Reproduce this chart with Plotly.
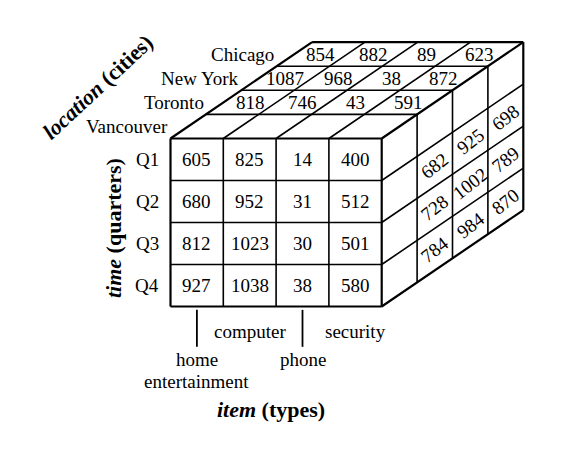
import plotly.graph_objects as go

# ---------------- data ----------------
items = ["home entertainment", "computer", "phone", "security"]
quarters = ["Q1", "Q2", "Q3", "Q4"]
cities = ["Vancouver", "Toronto", "New York", "Chicago"]

# front face: Vancouver (rows = quarters, columns = items)
vancouver = [
    [605, 825, 14, 400],
    [680, 952, 31, 512],
    [812, 1023, 30, 501],
    [927, 1038, 38, 580],
]
# top face: Q1 sales of the cities behind Vancouver
q1_toronto = [818, 746, 43, 591]
q1_new_york = [1087, 968, 38, 872]
q1_chicago = [854, 882, 89, 623]
# right face: security sales, Q2..Q4
security_toronto = [682, 728, 784]
security_new_york = [925, 1002, 984]
security_chicago = [698, 789, 870]

top_values = [None, q1_toronto, q1_new_york, q1_chicago]
side_values = [None, security_toronto, security_new_york, security_chicago]

# ---------------- geometry (oblique projection of the cube) ----------------
W, H = 567, 451
PAGE_OFF = 8            # default page margin around the figure
X0, Y0 = 170.5, 138.5   # front-top-left corner
CW, RH = 52.8, 42.0     # cell width / height on front face
DX, DY = 35.4, 24.1     # shift per depth layer
ANG = -38               # text angle on the right face

FONT = "Liberation Serif, Times New Roman, serif"
FS = 19
TFS = 22

ni, nj, nk = len(items), len(quarters), len(cities)


def proj(i, j, k):
    return X0 + i * CW + k * DX, Y0 + j * RH - k * DY


outer, inner = [], []
# front face
for i in range(ni + 1):
    (outer if i in (0, ni) else inner).append(((i, 0, 0), (i, nj, 0)))
for j in range(nj + 1):
    (outer if j in (0, nj) else inner).append(((0, j, 0), (ni, j, 0)))
# top face
for k in range(1, nk + 1):
    (outer if k == nk else inner).append(((0, 0, k), (ni, 0, k)))
for i in range(ni + 1):
    (outer if i in (0, ni) else inner).append(((i, 0, 0), (i, 0, nk)))
# right face
for k in range(1, nk + 1):
    (outer if k == nk else inner).append(((ni, 0, k), (ni, nj, k)))
for j in range(1, nj + 1):
    (outer if j == nj else inner).append(((ni, j, 0), (ni, j, nk)))


def seg_xy(segs):
    xs, ys = [], []
    for a, b in segs:
        x1, y1 = proj(*a)
        x2, y2 = proj(*b)
        xs += [x1, x2, None]
        ys += [y1, y2, None]
    return xs, ys


fig = go.Figure()
for segs, w in ((inner, 1.6), (outer, 2.2)):
    xs, ys = seg_xy(segs)
    fig.add_trace(go.Scatter(x=xs, y=ys, mode="lines",
                             line=dict(color="black", width=w),
                             hoverinfo="skip", showlegend=False))

# tick lines under the even items
tick_segs = [((i + 0.5, nj + 0.08, 0), (i + 0.5, nj + 0.96, 0)) for i in range(0, ni, 2)]
xs, ys = seg_xy(tick_segs)
fig.add_trace(go.Scatter(x=xs, y=ys, mode="lines", line=dict(color="black", width=1.8),
                         hoverinfo="skip", showlegend=False))

ann = []


def text(x, y, s, size=FS, angle=0, xanchor="center", yanchor="middle"):
    ann.append(dict(x=x, y=y, xref="x", yref="y", text=s, showarrow=False,
                    textangle=angle, xanchor=xanchor, yanchor=yanchor,
                    font=dict(family=FONT, size=size, color="black")))


# front face values
for j, row in enumerate(vancouver):
    for i, v in enumerate(row):
        x, y = proj(i + 0.5, j + 0.5, 0)
        text(x, y, str(v))
# top face values
for k, vals in enumerate(top_values):
    if vals is None:
        continue
    for i, v in enumerate(vals):
        x, y = proj(i + 0.5, 0, k + 0.5)
        text(x, y, str(v))
# right face values (Q2..Q4)
for k, vals in enumerate(side_values):
    if vals is None:
        continue
    for jj, v in enumerate(vals):
        x, y = proj(ni, jj + 1.5, k + 0.5)
        text(x, y, str(v), angle=ANG)

# quarter labels
for j, q in enumerate(quarters):
    x, y = proj(0, j + 0.5, 0)
    text(x - 10, y, q, xanchor="right")
# city labels
for k, c in enumerate(cities):
    x, y = proj(0, 0, k + 0.5)
    text(x - 18, y, c, xanchor="right")
# item labels
for i, it in enumerate(items):
    x, y = proj(i + 0.5, nj, 0)
    if i % 2 == 1:
        text(x, y + 25, it)
    else:
        for n, word in enumerate(it.split(" ")):
            text(x, y + 53 + 22 * n, word)

# dimension titles
text(271, 409, "<b><i>item</i> (types)</b>", size=TFS)
text(113, 228, "<b><i>time</i> (quarters)</b>", size=TFS, angle=-90)
text(97, 87, "<b><i>location</i> (cities)</b>", size=TFS, angle=-43)

fig.update_layout(
    width=W, height=H, margin=dict(l=0, r=0, t=0, b=0),
    paper_bgcolor="white", plot_bgcolor="white",
    xaxis=dict(range=[PAGE_OFF, W + PAGE_OFF], visible=False, fixedrange=True),
    yaxis=dict(range=[H + PAGE_OFF, PAGE_OFF], visible=False, fixedrange=True),
    annotations=ann, showlegend=False,
)
fig.write_html("out.html", config={"displayModeBar": False})
